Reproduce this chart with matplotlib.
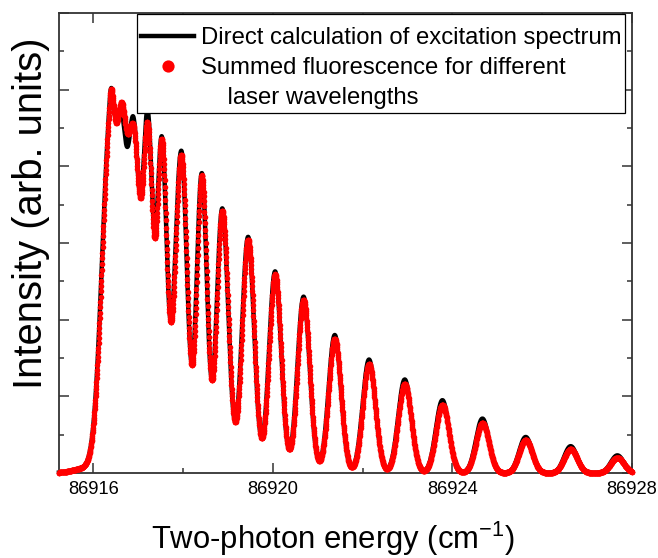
import numpy as np
import matplotlib
matplotlib.use("Agg")
import matplotlib.pyplot as plt

# ---------------- data ----------------
# individual line components of the spectrum (cm^-1)
line_centers = np.array([86915.815, 86916.372, 86916.617, 86916.906, 86917.218,
                         86917.529, 86917.963, 86918.420, 86918.876, 86919.451,
                         86920.052, 86920.686, 86921.381, 86922.144, 86922.939,
                         86923.778, 86924.669, 86925.633, 86926.634, 86927.674])
# widths (cm^-1) on the low / high energy side of each line
line_sigma_left = np.array([0.267, 0.183, 0.122, 0.122, 0.107,
                            0.111, 0.145, 0.116, 0.125, 0.136,
                            0.134, 0.136, 0.138, 0.142, 0.145,
                            0.145, 0.145, 0.145, 0.145, 0.145])
line_sigma_right = np.array([0.267, 0.100, 0.122, 0.130, 0.107,
                             0.111, 0.129, 0.116, 0.134, 0.134,
                             0.134, 0.136, 0.138, 0.142, 0.145,
                             0.145, 0.145, 0.145, 0.145, 0.145])
summed_sigma_left = np.array([0.267, 0.183, 0.122, 0.134, 0.107,
                              0.111, 0.145, 0.116, 0.125, 0.136,
                              0.134, 0.136, 0.138, 0.142, 0.145,
                              0.145, 0.145, 0.145, 0.145, 0.145])
summed_sigma_right = np.array([0.267, 0.100, 0.122, 0.134, 0.107,
                               0.111, 0.129, 0.116, 0.134, 0.134,
                               0.134, 0.136, 0.138, 0.142, 0.145,
                               0.145, 0.145, 0.145, 0.145, 0.145])
# line heights (arb. units)
heights_direct = np.array([0.06, 4.30, 4.27, 4.30, 4.40,
                           4.28, 4.20, 3.90, 3.45, 3.08,
                           2.63, 2.30, 1.80, 1.48, 1.22,
                           0.95, 0.71, 0.47, 0.35, 0.23])
heights_summed = np.array([0.06, 4.30, 4.20, 4.20, 4.20,
                           4.25, 4.15, 3.87, 3.42, 3.04,
                           2.59, 2.26, 1.75, 1.42, 1.16,
                           0.89, 0.65, 0.43, 0.31, 0.20])
scan_start, scan_end = 86915.24, 86928.0
direct_step, summed_step = 0.002, 0.005

series_labels = ["Direct calculation of excitation spectrum",
                 "Summed fluorescence for different",
                 "    laser wavelengths"]
x_label = "Two-photon energy (cm$^{-1}$)"
y_label = "Intensity (arb. units)"
xtick_major = [86916, 86920, 86924, 86928]
xtick_labels = ["86916", "86920", "86924", "86928"]
xtick_minor = [86918, 86922, 86926]
ytick_major = [0, 1, 2, 3, 4, 5, 6]
ytick_minor = [0.5, 1.5, 2.5, 3.5, 4.5, 5.5]
x_range = (86915.24, 86928.0)
y_range = (0, 6)


def spectrum(x, centers, heights, sl, sr):
    d = x[:, None] - centers[None, :]
    s = np.where(d < 0, sl[None, :], sr[None, :])
    return (heights[None, :] * np.exp(-0.5 * (d / s) ** 2)).sum(axis=1)


x_direct = np.arange(scan_start, scan_end + direct_step / 2, direct_step)
y_direct = spectrum(x_direct, line_centers, heights_direct, line_sigma_left, line_sigma_right)
x_summed = np.arange(scan_start, scan_end + summed_step / 2, summed_step)
y_summed = spectrum(x_summed, line_centers, heights_summed, summed_sigma_left, summed_sigma_right)

# ---------------- styling ----------------
plt.rcParams['font.family'] = ['Liberation Sans', 'DejaVu Sans']
plt.rcParams['mathtext.fontset'] = 'custom'
plt.rcParams['mathtext.rm'] = 'Liberation Sans'
plt.rcParams['mathtext.it'] = 'Liberation Sans:italic'
plt.rcParams['mathtext.bf'] = 'Liberation Sans:bold'

fig = plt.figure(figsize=(6.58, 5.58), dpi=100)
ax = fig.add_axes([59 / 658, 85 / 558, 573 / 658, 460 / 558])

ax.plot(x_direct, y_direct, color='black', lw=3.2, zorder=2, clip_on=False,
        solid_joinstyle='round', label=series_labels[0])
ax.plot(x_summed, y_summed, ls='none', marker='o', ms=4.0, mec='none', mfc='#ff0000',
        zorder=3, clip_on=False, label=series_labels[1])
ax.plot([], [], ls='none', label=series_labels[2])

ax.set_xlim(*x_range)
ax.set_ylim(*y_range)
ax.set_xticks(xtick_major)
ax.set_xticklabels(xtick_labels)
ax.set_xticks(xtick_minor, minor=True)
ax.set_yticks(ytick_major)
ax.set_yticks(ytick_minor, minor=True)

for sp in ax.spines.values():
    sp.set_linewidth(1.3)
    sp.set_color('#333333')
ax.tick_params(which='both', direction='in', top=True, right=True,
               color='#333333', width=1.1)
ax.tick_params(which='major', length=7)
ax.tick_params(which='minor', length=3.5)
ax.tick_params(axis='x', which='major', labelsize=13.2, pad=6)
ax.tick_params(axis='y', labelleft=False)

ax.set_xlabel(x_label, fontsize=22.3)
ax.xaxis.set_label_coords(0.478, -0.102)
ax.set_ylabel(y_label, fontsize=28.8)
ax.yaxis.set_label_coords(-0.016, 0.565)

leg = ax.legend(loc='upper left', bbox_to_anchor=(78 / 573, 459 / 460),
                borderaxespad=0, fontsize=17.2, frameon=True, fancybox=False,
                edgecolor='black', framealpha=1, borderpad=0.18, labelspacing=0.33,
                handlelength=2.2, handletextpad=0.28, markerscale=2.2,
                title=" ", title_fontsize=1)
leg.get_frame().set_linewidth(0.9)
leg.set_zorder(5)

fig.savefig('out.png', dpi=100)
